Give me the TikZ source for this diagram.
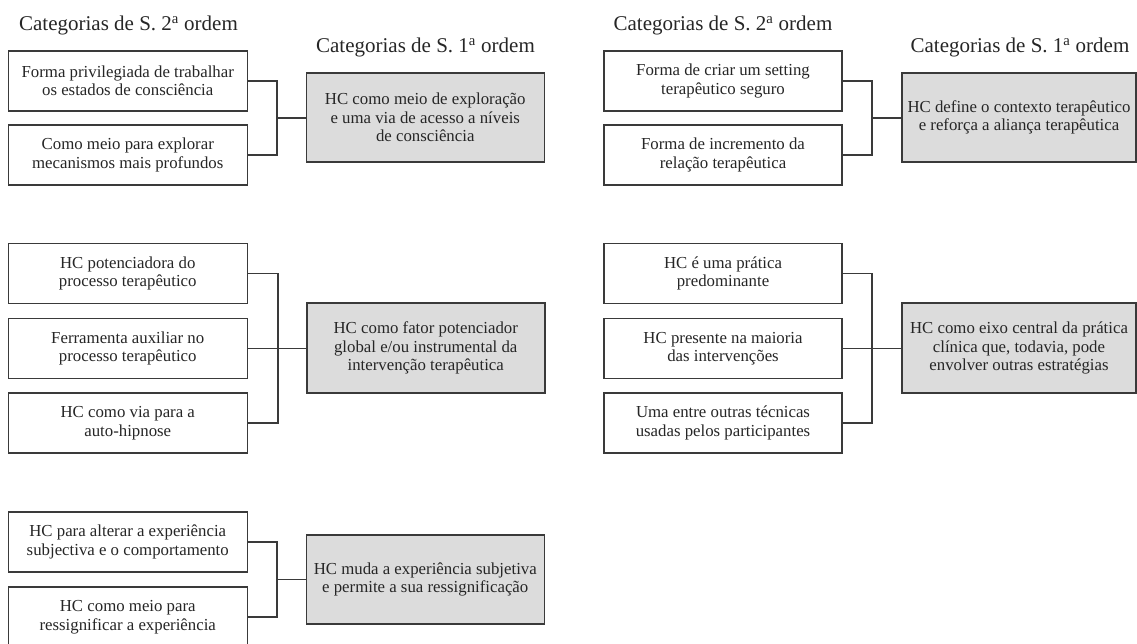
\documentclass[tikz,border=0pt]{standalone}
\usepackage{fontspec}
\setmainfont{Liberation Serif}
\usetikzlibrary{positioning}
\definecolor{boxgray}{RGB}{220,220,220}
\definecolor{linegray}{RGB}{58,58,58}
\definecolor{textgray}{RGB}{38,38,38}
\tikzset{
  cattwo/.style={draw=linegray, line width=1.5pt, fill=white, minimum width=239pt,
    minimum height=60pt, inner sep=0pt, align=center, text=textgray,
    font=\fontsize{16.8}{18.5}\selectfont},
  catone/.style={cattwo, fill=boxgray, minimum width=238pt, minimum height=89pt},
  header/.style={anchor=base, text=textgray, font=\fontsize{21}{24}\selectfont},
  link/.style={draw=linegray, line width=1.4pt}
}

\begin{document}
\begin{tikzpicture}[x=1pt, y=-1pt]
  \useasboundingbox (0,0) rectangle (1137,644);
  % headers
  \node[header] (hA) at (128.5,31) {Categorias de S. 2\textsuperscript{a} ordem};
  \node[header] (hB) at (425.5,53) {Categorias de S. 1\textsuperscript{a} ordem};
  \node[header] (hC) at (723,31) {Categorias de S. 2\textsuperscript{a} ordem};
  \node[header] (hD) at (1020,53) {Categorias de S. 1\textsuperscript{a} ordem};

  % exploracao
  \node[cattwo] (b11) at (127.75,81) {Forma privilegiada de trabalhar\\os estados de consciência};
  \node[cattwo] (b12) at (127.75,155) {Como meio para explorar\\mecanismos mais profundos};
  \node[catone] (g1) at (425.25,117.5) {HC como meio de exploração\\e uma via de acesso a níveis\\de consciência};
  \coordinate (j1) at (277,118);
  \draw[link] (b11.east) -| (j1) |- (b12.east);
  \draw[link] (j1) -- (j1 -| g1.west);

  % contexto
  \node[cattwo, minimum width=238pt] (b21) at (723,81) {Forma de criar um setting\\terapêutico seguro};
  \node[cattwo, minimum width=238pt] (b22) at (723,155) {Forma de incremento da\\relação terapêutica};
  \node[catone, minimum width=234pt] (g2) at (1019,117.5) {HC define o contexto terapêutico\\e reforça a aliança terapêutica};
  \coordinate (j2) at (872,118);
  \draw[link] (b21.east) -| (j2) |- (b22.east);
  \draw[link] (j2) -- (j2 -| g2.west);

  % potenciador
  \node[cattwo] (b31) at (127.75,273.5) {HC potenciadora do\\processo terapêutico};
  \node[cattwo] (b32) at (127.75,348.5) {Ferramenta auxiliar no\\processo terapêutico};
  \node[cattwo] (b33) at (127.75,423) {HC como via para a\\auto-hipnose};
  \node[catone, minimum height=90pt] (g3) at (425.75,348) {HC como fator potenciador\\global e/ou instrumental da\\intervenção terapêutica};
  \coordinate (j3) at (278,348.5);
  \draw[link] (b31.east) -| (j3) |- (b33.east);
  \draw[link] (b32.east) -- (b32.east -| g3.west);

  % eixo central
  \node[cattwo, minimum width=238pt] (b41) at (723,273.5) {HC é uma prática\\predominante};
  \node[cattwo, minimum width=238pt] (b42) at (723,348.5) {HC presente na maioria\\das intervenções};
  \node[cattwo, minimum width=238pt] (b43) at (723,423) {Uma entre outras técnicas\\usadas pelos participantes};
  \node[catone, minimum width=234pt, minimum height=90pt] (g4) at (1019,348) {HC como eixo central da prática\\clínica que, todavia, pode\\envolver outras estratégias};
  \coordinate (j4) at (872,348.5);
  \draw[link] (b41.east) -| (j4) |- (b43.east);
  \draw[link] (b42.east) -- (b42.east -| g4.west);

  % ressignificacao
  \node[cattwo] (b51) at (127.75,542) {HC para alterar a experiência\\subjectiva e o comportamento};
  \node[cattwo] (b52) at (127.75,617) {HC como meio para\\ressignificar a experiência};
  \node[catone] (g5) at (425.25,579.5) {HC muda a experiência subjetiva\\e permite a sua ressignificação};
  \coordinate (j5) at (277,579.5);
  \draw[link] (b51.east) -| (j5) |- (b52.east);
  \draw[link] (j5) -- (j5 -| g5.west);
\end{tikzpicture}
\end{document}
